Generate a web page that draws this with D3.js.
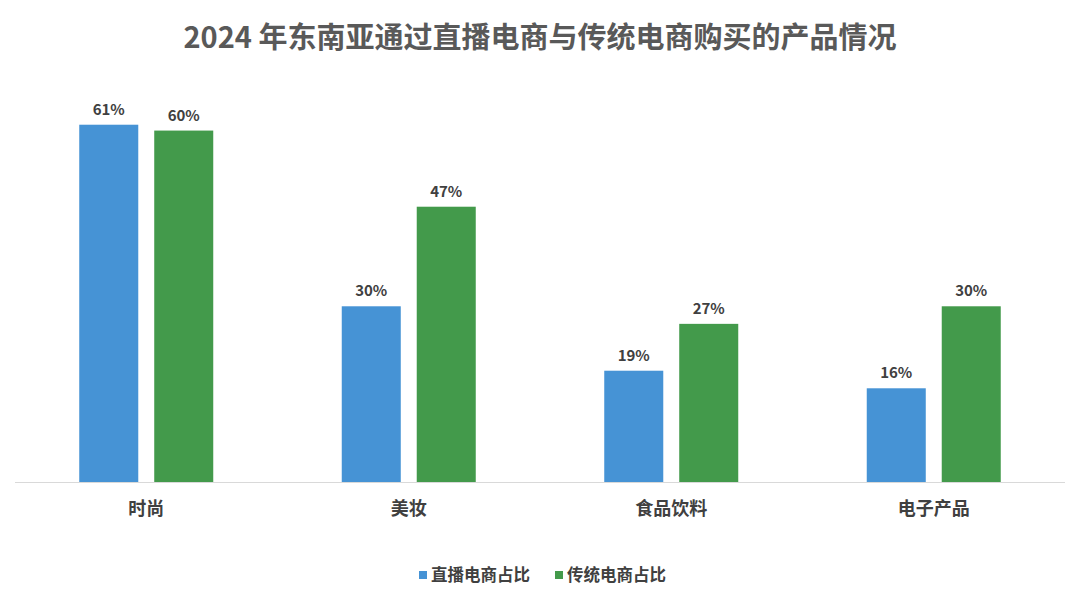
<!DOCTYPE html>
<html>
<head>
<meta charset="utf-8">
<script src="https://cdn.jsdelivr.net/npm/d3@7"></script>
<style>
  html, body { margin: 0; padding: 0; background: #fff; }
  body { width: 1080px; height: 601px; overflow: hidden; }
  text { font-family: "Noto Sans CJK SC", "Liberation Sans", Arial, sans-serif; }
</style>
</head>
<body>
<div id="chart"></div>
<script>
/* ============================
   DATA
============================ */
const categories = ["时尚", "美妆", "食品饮料", "电子产品"];
const seriesNames = ["直播电商占比", "传统电商占比"];
const liveValues = [61, 30, 19, 16];
const traditionalValues = [60, 47, 27, 30];
const seriesValues = [liveValues, traditionalValues];
const colors = ["#4693d5", "#439a4b"];
const title = "2024 年东南亚通过直播电商与传统电商购买的产品情况";

/* ============================
   LAYOUT
============================ */
const W = 1080, H = 601;
const plotLeft = 15, plotRight = 1065;
const baseY = 482;

const svg = d3.select("#chart").append("svg")
  .attr("width", W).attr("height", H);

svg.append("text")
  .attr("x", W / 2).attr("y", 48)
  .attr("text-anchor", "middle")
  .attr("font-size", 29).attr("font-weight", 700)
  .attr("fill", "#595959")
  .text(title);

const x0 = d3.scaleBand().domain(categories).range([plotLeft, plotRight]).padding(0);
const groupW = 134;
const x1 = d3.scaleBand().domain(d3.range(seriesNames.length)).range([0, groupW]).paddingInner(0.213).paddingOuter(0);
const y = d3.scaleLinear().domain([0, 70]).range([baseY, 72]);

// axis baseline
svg.append("line")
  .attr("x1", plotLeft).attr("x2", plotRight)
  .attr("y1", baseY + 0.5).attr("y2", baseY + 0.5)
  .attr("stroke", "#d9d9d9").attr("stroke-width", 1);

const rows = [];
categories.forEach((c, i) => {
  seriesValues.forEach((vals, s) => rows.push({ cat: c, s, v: vals[i] }));
});

const gx = c => x0(c) + (x0.bandwidth() - groupW) / 2;

svg.selectAll("rect.bar")
  .data(rows).enter().append("rect")
  .attr("class", "bar")
  .attr("x", d => gx(d.cat) + x1(d.s))
  .attr("y", d => y(d.v))
  .attr("width", x1.bandwidth())
  .attr("height", d => baseY - y(d.v))
  .attr("fill", d => colors[d.s]);

svg.selectAll("text.val")
  .data(rows).enter().append("text")
  .attr("class", "val")
  .attr("x", d => gx(d.cat) + x1(d.s) + x1.bandwidth() / 2)
  .attr("y", d => y(d.v) - 10)
  .attr("text-anchor", "middle")
  .attr("font-size", 15).attr("font-weight", 700)
  .attr("fill", "#404040")
  .text(d => d.v + "%");

// category labels
svg.selectAll("text.cat")
  .data(categories).enter().append("text")
  .attr("class", "cat")
  .attr("x", d => x0(d) + x0.bandwidth() / 2)
  .attr("y", 515)
  .attr("text-anchor", "middle")
  .attr("font-size", 18).attr("font-weight", 700)
  .attr("fill", "#404040")
  .text(d => d);

// legend
const legendX = [419, 555];
const lg = svg.selectAll("g.leg")
  .data(seriesNames).enter().append("g")
  .attr("class", "leg")
  .attr("transform", (d, i) => `translate(${legendX[i]}, 575)`);
lg.append("rect")
  .attr("x", 0).attr("y", -4).attr("width", 8).attr("height", 8)
  .attr("fill", (d, i) => colors[i]);
lg.append("text")
  .attr("x", 12).attr("y", 6)
  .attr("font-size", 16.5).attr("font-weight", 700)
  .attr("fill", "#404040")
  .text(d => d);
</script>
</body>
</html>
